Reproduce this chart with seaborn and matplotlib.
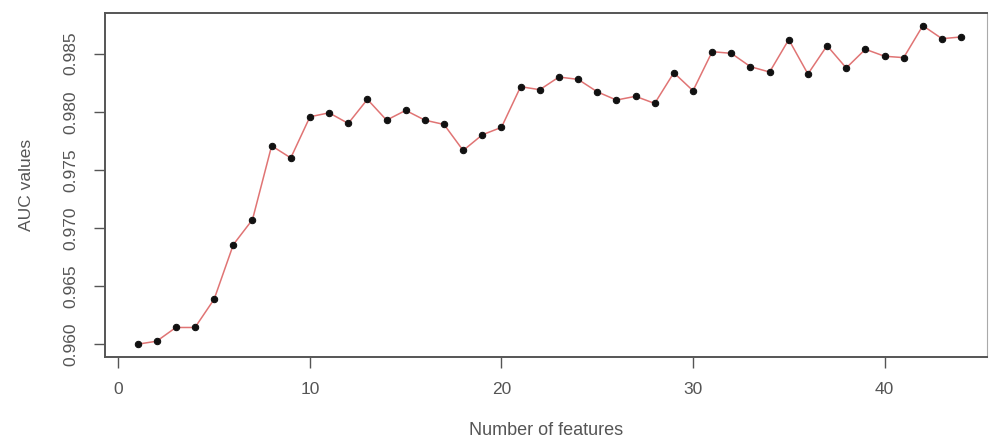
import matplotlib
matplotlib.use("Agg")
import matplotlib.pyplot as plt
import seaborn as sns
import pandas as pd
import numpy as np

# AUC obtained when keeping the top-k features
n_features = list(range(1, 45))
auc_values = [
    0.96000, 0.96026, 0.96144, 0.96144, 0.96388, 0.96857, 0.97072, 0.97707,
    0.97603, 0.97957, 0.97991, 0.97900, 0.98107, 0.97928, 0.98012, 0.97928,
    0.97891, 0.97667, 0.97802, 0.97866, 0.98216, 0.98190, 0.98299, 0.98279,
    0.98172, 0.98101, 0.98133, 0.98072, 0.98336, 0.98181, 0.98517, 0.98503,
    0.98388, 0.98342, 0.98621, 0.98325, 0.98569, 0.98377, 0.98538, 0.98478,
    0.98466, 0.98741, 0.98629, 0.98644,
]
x_ticks = [0, 10, 20, 30, 40]
y_ticks = [0.960, 0.965, 0.970, 0.975, 0.980, 0.985]

df = pd.DataFrame({"features": n_features, "auc": auc_values})

sns.set_theme(style="ticks")
plt.rcParams["font.family"] = ["Liberation Sans", "DejaVu Sans"]

W, H = 989, 438
fig = plt.figure(figsize=(W / 100, H / 100), dpi=100)
ax = fig.add_axes([105 / W, 81 / H, (987 - 105) / W, (425 - 81) / H])

text_col = "#555555"
frame_col = "#555555"

sns.lineplot(data=df, x="features", y="auc", ax=ax, color="#e07474",
             linewidth=1.1, marker="o", markersize=4.6,
             markerfacecolor="#111111", markeredgecolor="#111111")

ax.set_xlim(-0.7, 45.35)
ax.set_ylim(0.9589, 0.9885)
ax.set_xticks(x_ticks)
ax.set_xticklabels([str(v) for v in x_ticks])
ax.set_yticks(y_ticks)
ax.set_yticklabels([f"{v:.3f}" for v in y_ticks], rotation=90, va="center")

for side in ["left", "right", "top", "bottom"]:
    ax.spines[side].set_visible(True)
    ax.spines[side].set_color(frame_col)
    ax.spines[side].set_linewidth(1.4)
ax.spines["right"].set_linewidth(0.8)
ax.spines["right"].set_color("#aaaaaa")

ax.tick_params(axis="both", direction="out", length=8, width=1.0,
               color=frame_col, labelcolor=text_col, labelsize=12.5)
ax.tick_params(axis="y", pad=11)
ax.tick_params(axis="x", pad=10)

ax.set_xlabel("Number of features", fontsize=13, color=text_col, labelpad=18)
ax.set_ylabel("AUC values", fontsize=12.5, color=text_col, labelpad=21)
ax.grid(False)

fig.savefig("out.png", dpi=100)
